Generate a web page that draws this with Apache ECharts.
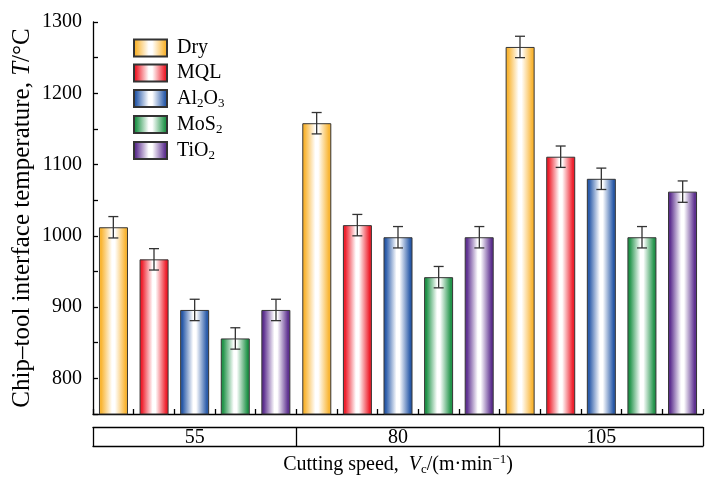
<!DOCTYPE html>
<html>
<head>
<meta charset="utf-8">
<script src="https://cdn.jsdelivr.net/npm/echarts@6/dist/echarts.min.js"></script>
<style>
  html, body { margin: 0; padding: 0; background: #fff; }
  #chart { width: 714px; height: 477px; }
</style>
</head>
<body>
<div id="chart"></div>
<script>
// Cutting speeds (m/min) and lubrication conditions
const speeds = ['55', '80', '105'];
const fluids = ['Dry', 'MQL', 'Al2O3', 'MoS2', 'TiO2'];

// Mean chip-tool interface temperature (°C) per speed
const dryTemp   = [1012, 1158, 1265];
const mqlTemp   = [967, 1015, 1111];
const al2o3Temp = [896, 998, 1080];
const mos2Temp  = [856, 942, 998];
const tio2Temp  = [896, 998, 1062];

// Error bar half-widths (°C)
const dryErr   = [15, 15, 15];
const mqlErr   = [15, 15, 15];
const al2o3Err = [15, 15, 15];
const mos2Err  = [15, 15, 15];
const tio2Err  = [15, 15, 15];

// Labelled y ticks
const yTickLabels = [800, 900, 1000, 1100, 1200, 1300];

const temps = [dryTemp, mqlTemp, al2o3Temp, mos2Temp, tio2Temp];
const errs = [dryErr, mqlErr, al2o3Err, mos2Err, tio2Err];

const edgeColors = ['#F9B534', '#EE1F2C', '#2A5BA9', '#22944A', '#5E3190'];
const serif = '"Liberation Serif", "Times New Roman", serif';
const ink = '#000';

function barFill(c) {
  return new echarts.graphic.LinearGradient(0, 0, 1, 0, [
    { offset: 0, color: c },
    { offset: 0.08, color: c },
    { offset: 0.45, color: '#ffffff' },
    { offset: 0.55, color: '#ffffff' },
    { offset: 0.92, color: c },
    { offset: 1, color: c }
  ]);
}

// Display names with chemical subscripts
const richNames = {
  'Dry': 'Dry',
  'MQL': 'MQL',
  'Al2O3': 'Al{s|2}O{s|3}',
  'MoS2': 'MoS{s|2}',
  'TiO2': 'TiO{s|2}'
};

const baseText = { fontFamily: serif, fontSize: 20, lineHeight: 22, color: ink };
const subText = { fontFamily: serif, fontSize: 13, lineHeight: 12, padding: [10, 0, 0, 0], color: ink };
const supText = { fontFamily: serif, fontSize: 13, lineHeight: 12, padding: [0, 0, 10, 0], color: ink };
const italText = { fontFamily: serif, fontSize: 20, lineHeight: 22, fontStyle: 'italic', color: ink };

// Fine category axis: one slot per bar, used for the small ticks between bars
const slots = [];
speeds.forEach(s => fluids.forEach(f => slots.push(s + '-' + f)));

const barSeries = fluids.map((name, k) => ({
  name: name,
  type: 'bar',
  xAxisIndex: 0,
  data: temps[k],
  barWidth: 29,
  barGap: '40%',
  itemStyle: {
    color: barFill(edgeColors[k]),
    borderColor: '#333',
    borderWidth: 1
  },
  z: 2
}));

const errData = [];
fluids.forEach((f, k) => {
  speeds.forEach((s, i) => errData.push([i, k, temps[k][i], errs[k][i]]));
});

const errSeries = {
  type: 'custom',
  xAxisIndex: 0,
  data: errData,
  encode: { x: 0, y: 2 },
  z: 5,
  silent: true,
  renderItem: function (params, api) {
    const cat = api.value(0), k = api.value(1), v = api.value(2), e = api.value(3);
    const slot = api.size([1, 0])[0] / fluids.length;
    const x = api.coord([cat, v])[0] + (k - (fluids.length - 1) / 2) * slot;
    const yTop = api.coord([cat, v + e])[1];
    const yBot = api.coord([cat, v - e])[1];
    const cap = 5;
    const st = { stroke: '#333', lineWidth: 1.3 };
    return {
      type: 'group',
      children: [
        { type: 'line', shape: { x1: x, y1: yTop, x2: x, y2: yBot }, style: st },
        { type: 'line', shape: { x1: x - cap, y1: yTop, x2: x + cap, y2: yTop }, style: st },
        { type: 'line', shape: { x1: x - cap, y1: yBot, x2: x + cap, y2: yBot }, style: st }
      ]
    };
  }
};

const axisLine = { show: true, lineStyle: { color: ink, width: 1.3 } };

const option = {
  animation: false,
  backgroundColor: '#fff',
  grid: { left: 93, right: 11, top: 22, bottom: 63, containLabel: false, outerBoundsMode: 'none' },
  legend: {
    orient: 'vertical',
    left: 133,
    top: 37,
    padding: 0,
    itemWidth: 33,
    itemHeight: 17,
    itemGap: 3,
    icon: 'rect',
    data: fluids,
    formatter: name => richNames[name],
    textStyle: Object.assign({}, baseText, {
      padding: [0, 0, 0, 5],
      rich: { s: subText }
    })
  },
  xAxis: [
    {
      // speed table row under the plot
      type: 'category',
      data: speeds,
      position: 'bottom',
      offset: 13,
      axisLine: axisLine,
      axisTick: { show: true, inside: false, length: 19, alignWithLabel: false, lineStyle: { color: ink, width: 1.3 } },
      axisLabel: { fontFamily: serif, fontSize: 20, color: ink, margin: 1 },
      splitLine: { show: false }
    },
    {
      // plot baseline with ticks between bars
      type: 'category',
      data: slots,
      position: 'bottom',
      offset: 0,
      axisLine: axisLine,
      axisTick: { show: true, inside: true, length: 5, alignWithLabel: false, interval: 0, lineStyle: { color: ink, width: 1.3 } },
      axisLabel: { show: false },
      splitLine: { show: false }
    },
    {
      // bottom edge of the table and axis title
      type: 'category',
      data: speeds,
      position: 'bottom',
      offset: 32,
      axisLine: axisLine,
      axisTick: { show: false },
      axisLabel: { show: false },
      splitLine: { show: false },
      name: 'Cutting speed,  {i|V}{sub|c}/(m·min{sup|−1})',
      nameLocation: 'middle',
      nameGap: 8,
      nameMoveOverlap: false,
      nameTextStyle: Object.assign({}, baseText, {
        rich: { i: italText, sub: subText, sup: supText }
      })
    }
  ],
  yAxis: {
    type: 'value',
    min: 750,
    max: 1300,
    interval: 50,
    axisLine: axisLine,
    axisTick: { show: true, inside: true, length: 5, lineStyle: { color: ink, width: 1.3 } },
    axisLabel: {
      fontFamily: serif,
      fontSize: 20,
      color: ink,
      margin: 11,
      formatter: v => (yTickLabels.indexOf(v) >= 0 ? String(v) : '')
    },
    splitLine: { show: false },
    name: 'Chip\u2013tool interface temperature, {i|T}/°C',
    nameLocation: 'middle',
    nameGap: 57,
    nameMoveOverlap: false,
    nameTextStyle: Object.assign({}, baseText, {
      fontSize: 25,
      lineHeight: 27,
      rich: { i: Object.assign({}, italText, { fontSize: 25, lineHeight: 27 }) }
    })
  },
  series: barSeries.concat([errSeries])
};

const chart = echarts.init(document.getElementById('chart'), null, { renderer: 'canvas' });
chart.setOption(option);
</script>
</body>
</html>
